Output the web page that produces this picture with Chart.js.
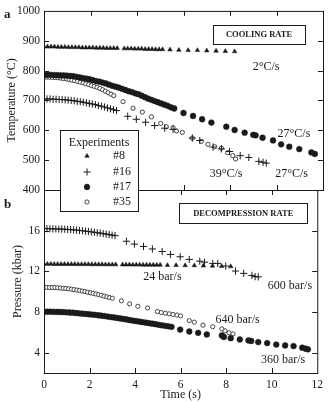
<!DOCTYPE html>
<html>
<head>
<meta charset="utf-8">
<script src="https://cdn.jsdelivr.net/npm/chart.js@4"></script>
<style>
  html, body { margin: 0; padding: 0; background: #fff; }
  #wrap { position: relative; width: 328px; height: 402px; }
  #wrap canvas { position: absolute; left: 0; top: 0; }
</style>
</head>
<body>
<div id="wrap">
  <canvas id="tempChart" width="328" height="402"></canvas>
  <canvas id="presChart" width="328" height="402"></canvas>
</div>
<script>
// ---- data ----
const xTicks = [0, 2, 4, 6, 8, 10, 12];
const tempTicks = [400, 500, 600, 700, 800, 900, 1000];
const presTicks = [4, 8, 12, 16];
const experiments = ['#8', '#16', '#17', '#35'];

// #8 (triangles), same sampling in both panels
const time8 = [0,0.15,0.3,0.45,0.6,0.75,0.9,1.05,1.2,1.35,1.5,1.65,1.8,1.95,2.1,2.25,2.4,2.55,2.7,2.85,3.0,3.15,
  3.45,3.6,3.75,3.9,4.05,4.2,4.35,4.5,4.65,4.8,4.95,5.1,
  5.42,5.8,6.2,6.6,7.0,7.4,7.8,8.2];
const temp8 = [880,880,880,880,879,879,879,878,878,878,878,877,877,877,877,876,876,876,875,875,875,875,
  874,874,874,873,873,873,872,872,872,871,871,871,
  870,869,868,868,867,866,865,864];
const pres8 = [12.72,12.72,12.72,12.71,12.71,12.71,12.7,12.7,12.7,12.7,12.69,12.69,12.69,12.69,12.68,12.68,12.68,12.68,12.67,12.67,12.67,12.67,
  12.66,12.66,12.66,12.65,12.65,12.65,12.64,12.64,12.64,12.63,12.63,12.63,
  12.6,12.6,12.58,12.57,12.55,12.53,12.5,12.48];

// #16 (crosses)
const tempTime16 = [0,0.13,0.26,0.39,0.52,0.65,0.78,0.91,1.04,1.17,1.3,1.43,1.56,1.69,1.82,1.95,2.08,2.21,2.34,2.47,2.6,2.73,2.86,2.99,3.12,
  3.6,3.97,4.37,4.76,5.19,5.55,6.38,6.7,7.27,7.63,7.98,8.44,8.81,9.24,9.42,9.56];
const temp16 = [705,705,705,704,704,703,703,702,701,700,699,697,696,694,692,690,688,686,683,681,678,675,672,669,666,
  647,637,627,616,607,603,574,566,544,538,529,515,509,496,493,490];
const presTime16 = [0,0.13,0.26,0.39,0.52,0.65,0.78,0.91,1.04,1.17,1.3,1.43,1.56,1.69,1.82,1.95,2.08,2.21,2.34,2.47,2.6,2.73,2.86,2.99,3.12,
  3.62,3.97,4.37,4.76,5.19,5.55,5.98,6.38,6.84,7.05,7.41,7.63,7.98,8.41,8.77,9.13,9.27,9.41];
const pres16 = [16.2,16.2,16.19,16.18,16.17,16.16,16.15,16.14,16.12,16.1,16.08,16.05,16.02,15.99,15.95,15.92,15.88,15.84,15.8,15.76,15.71,15.66,15.61,15.56,15.51,
  14.96,14.68,14.45,14.2,13.95,13.66,13.43,13.17,13.0,12.9,12.78,12.78,12.52,12.03,11.8,11.6,11.48,11.45];

// #17 (filled circles)
const tempTime17 = [0,0.14,0.28,0.42,0.56,0.7,0.84,0.98,1.12,1.26,1.4,1.54,1.68,1.82,1.96,2.1,2.24,2.38,2.52,2.66,2.8,2.94,3.08,3.22,3.36,3.5,3.64,3.78,3.92,4.06,4.2,4.34,4.48,4.62,4.76,4.9,5.04,5.18,5.32,5.46,5.6,
  6.0,6.41,6.8,7.2,7.84,8.2,8.63,9.0,9.1,9.4,9.85,10.2,10.55,10.98,11.5,11.65];
const temp17 = [786,786,786,785,785,784,784,783,782,781,779,777,775,773,771,768,765,763,760,757,753,749,746,743,739,735,731,728,724,721,716,711,706,702,698,694,690,686,682,677,673,
  658,648,637,626,612,601,592,585,583,575,566,553,545,537,526,521];
const presTime17 = [0,0.14,0.28,0.42,0.56,0.7,0.84,0.98,1.12,1.26,1.4,1.54,1.68,1.82,1.96,2.1,2.24,2.38,2.52,2.66,2.8,2.94,3.08,3.22,3.36,3.5,3.64,3.78,3.92,4.06,4.2,4.34,4.48,4.62,4.76,4.9,5.04,5.18,5.32,5.46,5.6,
  5.98,6.38,6.77,7.15,7.81,7.9,8.2,8.6,8.98,9.1,9.41,9.8,10.2,10.59,10.96,11.34,11.49,11.59];
const pres17 = [8.03,8.03,8.03,8.02,8.01,8.0,7.99,7.97,7.95,7.93,7.9,7.87,7.84,7.81,7.78,7.75,7.72,7.68,7.64,7.6,7.55,7.5,7.46,7.41,7.36,7.31,7.26,7.2,7.15,7.1,7.05,7.0,6.95,6.9,6.85,6.8,6.74,6.69,6.64,6.59,6.54,
  6.27,6.08,5.95,5.79,5.69,5.55,5.43,5.3,5.2,5.15,5.04,4.94,4.8,4.71,4.65,4.49,4.39,4.33];

// #35 (open circles)
const tempTime35 = [0,0.12,0.24,0.36,0.48,0.6,0.72,0.84,0.96,1.08,1.2,1.32,1.44,1.56,1.68,1.8,1.92,2.04,2.16,2.28,2.4,2.52,2.64,2.76,2.88,3.0,
  3.4,3.83,4.23,4.62,5.02,5.26,5.55,5.7,5.95,6.38,6.77,7.05,7.34,7.63,7.9,8.12,8.24];
const temp35 = [778,778,778,777,777,776,775,773,772,770,768,766,764,761,759,756,753,750,747,744,740,736,731,726,721,716,
  696,674,661,645,623,612,609,598,593,574,563,553,545,540,525,515,504];
const presTime35 = [0,0.12,0.24,0.36,0.48,0.6,0.72,0.84,0.96,1.08,1.2,1.32,1.44,1.56,1.68,1.8,1.92,2.04,2.16,2.28,2.4,2.52,2.64,2.76,2.88,3.0,
  3.4,3.76,4.12,4.55,4.98,5.15,5.33,5.5,5.67,5.84,6.0,6.38,6.6,6.98,7.41,7.81,7.95,8.13,8.3];
const pres35 = [10.42,10.42,10.41,10.41,10.4,10.38,10.36,10.33,10.31,10.28,10.24,10.2,10.16,10.11,10.06,10.01,9.95,9.89,9.83,9.77,9.7,9.63,9.56,9.49,9.42,9.35,
  9.1,8.8,8.56,8.4,8.05,7.95,7.88,7.82,7.76,7.7,7.62,7.15,7.0,6.7,6.55,6.34,6.15,5.95,5.85];

// ---- styling ----
const serif = "'Liberation Serif', 'Times New Roman', serif";
const ink = '#1a1a1a';
const markerStyles = [
  { pointStyle: 'triangle', pointRadius: 2.6, pointBackgroundColor: ink, pointBorderColor: ink, pointBorderWidth: 0.5 },
  { pointStyle: 'cross', pointRadius: 3.6, pointBackgroundColor: ink, pointBorderColor: ink, pointBorderWidth: 1 },
  { pointStyle: 'circle', pointRadius: 2.9, pointBackgroundColor: ink, pointBorderColor: ink, pointBorderWidth: 0.5 },
  { pointStyle: 'circle', pointRadius: 2.1, pointBackgroundColor: '#fff', pointBorderColor: '#333', pointBorderWidth: 0.9 }
];

function pts(xs, ys) { return xs.map((x, i) => ({ x: x, y: ys[i] })); }

function makeDatasets(series) {
  return series.map((s, i) => Object.assign({
    label: experiments[i],
    data: s,
    showLine: false,
    pointHoverRadius: 3
  }, markerStyles[i]));
}

// frame, inward ticks, annotations
const framePlugin = {
  id: 'frame',
  afterDraw(chart, args, opts) {
    const ctx = chart.ctx;
    const a = chart.chartArea;
    const xs = chart.scales.x, ys = chart.scales.y;
    ctx.save();
    ctx.strokeStyle = ink;
    ctx.lineWidth = 1;
    ctx.strokeRect(a.left + 0.5, a.top + 0.5, a.right - a.left, a.bottom - a.top);
    ctx.beginPath();
    xTicks.forEach(v => {
      if (v === xs.min || v === xs.max) return;
      const px = Math.round(xs.getPixelForValue(v)) + 0.5;
      ctx.moveTo(px, a.top); ctx.lineTo(px, a.top + 5);
      ctx.moveTo(px, a.bottom); ctx.lineTo(px, a.bottom - 5);
    });
    opts.yTicks.forEach(v => {
      if (v === ys.min || v === ys.max) return;
      const py = Math.round(ys.getPixelForValue(v)) + 0.5;
      ctx.moveTo(a.left, py); ctx.lineTo(a.left + 5, py);
      ctx.moveTo(a.right, py); ctx.lineTo(a.right - 5, py);
    });
    ctx.stroke();

    // panel letter
    ctx.fillStyle = ink;
    ctx.font = 'bold 13px ' + serif;
    ctx.textAlign = 'left';
    ctx.textBaseline = 'middle';
    ctx.fillText(opts.letter, 4, opts.letterY);

    // boxed heading
    const hb = opts.heading;
    const hx = xs.getPixelForValue(hb.x), hy = ys.getPixelForValue(hb.y);
    ctx.fillStyle = '#fff';
    ctx.fillRect(hx - hb.w / 2, hy - hb.h / 2, hb.w, hb.h);
    ctx.strokeRect(Math.round(hx - hb.w / 2) + 0.5, Math.round(hy - hb.h / 2) + 0.5, hb.w, hb.h);
    ctx.fillStyle = ink;
    ctx.font = 'bold 8.5px ' + serif;
    ctx.textAlign = 'center';
    ctx.fillText(hb.text, hx, hy + 0.5);

    // rate labels
    ctx.font = '12px ' + serif;
    opts.notes.forEach(n => {
      ctx.fillText(n.text, xs.getPixelForValue(n.x), ys.getPixelForValue(n.y));
    });
    ctx.restore();
  }
};

// legend box drawn across both panels (top canvas)
const legendPlugin = {
  id: 'expLegend',
  afterDraw(chart) {
    const ctx = chart.ctx;
    ctx.save();
    ctx.fillStyle = '#fff';
    ctx.fillRect(60, 130, 78, 81);
    ctx.strokeStyle = ink;
    ctx.lineWidth = 1;
    ctx.strokeRect(60.5, 130.5, 78, 81);
    ctx.fillStyle = ink;
    ctx.font = '12px ' + serif;
    ctx.textAlign = 'center';
    ctx.textBaseline = 'middle';
    ctx.fillText('Experiments', 99, 143);
    const rowY = [156, 172, 187, 202];
    chart.data.datasets.forEach((ds, i) => {
      ctx.fillStyle = ds.pointBackgroundColor;
      ctx.strokeStyle = ds.pointBorderColor;
      ctx.lineWidth = ds.pointBorderWidth;
      Chart.helpers.drawPoint(ctx, {
        pointStyle: ds.pointStyle, radius: ds.pointRadius, rotation: 0, borderWidth: ds.pointBorderWidth
      }, 87, rowY[i]);
      ctx.fillStyle = ink;
      ctx.textAlign = 'left';
      ctx.fillText(ds.label, 113, rowY[i]);
    });
    ctx.restore();
  }
};

function yAxis(min, max, ticks, title, titlePad) {
  return {
    type: 'linear', min: min, max: max,
    afterBuildTicks: s => { s.ticks = ticks.map(v => ({ value: v })); },
    afterFit: s => { s.width = 44; },
    grid: { display: false, drawTicks: false },
    border: { display: false },
    ticks: { color: ink, padding: 4, font: { family: serif, size: 11.5 }, callback: v => String(v) },
    title: { display: true, text: title, color: ink, font: { family: serif, size: 12 }, padding: { top: titlePad, bottom: 0 } }
  };
}

Chart.defaults.animation = false;

new Chart(document.getElementById('tempChart'), {
  type: 'scatter',
  data: {
    datasets: makeDatasets([pts(time8, temp8), pts(tempTime16, temp16), pts(tempTime17, temp17), pts(tempTime35, temp35)])
  },
  options: {
    responsive: false,
    devicePixelRatio: 1,
    layout: { padding: { left: 0, top: 6, right: 5, bottom: 212 } },
    plugins: {
      legend: { display: false },
      tooltip: { enabled: false },
      frame: {
        yTicks: tempTicks, letter: 'a', letterY: 15,
        heading: { text: 'COOLING RATE', x: 9.25, y: 920, w: 92, h: 19 },
        notes: [
          { text: '2°C/s', x: 9.55, y: 814 },
          { text: '27°C/s', x: 10.75, y: 588 },
          { text: '39°C/s', x: 7.83, y: 455 },
          { text: '27°C/s', x: 10.65, y: 455 }
        ]
      }
    },
    scales: {
      x: { type: 'linear', min: 0, max: 12, display: false },
      y: yAxis(400, 1000, tempTicks, 'Temperature (°C)', 5)
    }
  },
  plugins: [framePlugin]
});

new Chart(document.getElementById('presChart'), {
  type: 'scatter',
  data: {
    datasets: makeDatasets([pts(time8, pres8), pts(presTime16, pres16), pts(presTime17, pres17), pts(presTime35, pres35)])
  },
  options: {
    responsive: false,
    devicePixelRatio: 1,
    layout: { padding: { left: 0, top: 190, right: 5, bottom: 0 } },
    plugins: {
      legend: { display: false },
      tooltip: { enabled: false },
      frame: {
        yTicks: presTicks, letter: 'b', letterY: 205,
        heading: { text: 'DECOMPRESSION RATE', x: 8.75, y: 17.75, w: 128, h: 20 },
        notes: [
          { text: '24 bar/s', x: 5.2, y: 11.48 },
          { text: '600 bar/s', x: 10.8, y: 10.57 },
          { text: '640 bar/s', x: 8.5, y: 7.25 },
          { text: '360 bar/s', x: 10.5, y: 3.25 }
        ]
      }
    },
    scales: {
      x: {
        type: 'linear', min: 0, max: 12,
        afterBuildTicks: s => { s.ticks = xTicks.map(v => ({ value: v })); },
        afterFit: s => { s.height = 29; },
        grid: { display: false, drawTicks: false },
        border: { display: false },
        ticks: { color: ink, padding: 5, maxRotation: 0, font: { family: serif, size: 11.5 }, callback: v => String(v) },
        title: { display: true, text: 'Time (s)', color: ink, font: { family: serif, size: 12 }, padding: { top: 0, bottom: 0 } }
      },
      y: yAxis(2, 20, presTicks, 'Pressure (kbar)', 11)
    }
  },
  plugins: [framePlugin, legendPlugin]
});
</script>
</body>
</html>
